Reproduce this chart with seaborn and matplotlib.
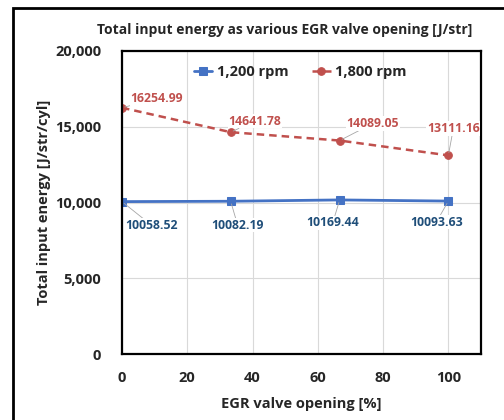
import matplotlib
matplotlib.use("Agg")
import matplotlib.pyplot as plt
import seaborn as sns
import pandas as pd
from matplotlib.patches import Rectangle
from matplotlib.ticker import FuncFormatter

egr_opening = [0, 33.3, 66.7, 100]
rpm1200 = [10058.52, 10082.19, 10169.44, 10093.63]
rpm1800 = [16254.99, 14641.78, 14089.05, 13111.16]
series_names = ["1,200 rpm", "1,800 rpm"]

sns.set_theme(style="white")
plt.rcParams['font.family'] = ['Open Sans', 'DejaVu Sans']
plt.rcParams['font.weight'] = 'bold'

fig = plt.figure(figsize=(5.04, 4.2), dpi=100)
ax = fig.add_axes([122/504, 66/420, 359/504, 303/420])

blue = "#4472C4"
red = "#C0504D"
sns.lineplot(x=egr_opening, y=rpm1200, ax=ax, color=blue, marker="s", markersize=6,
             markeredgecolor=blue, linewidth=2, label=series_names[0])
sns.lineplot(x=egr_opening, y=rpm1800, ax=ax, color=red, marker="o", markersize=5.5,
             markeredgecolor=red, linewidth=1.8, linestyle=(0, (3, 2)), label=series_names[1])

ax.set_xlim(0, 110)
ax.set_ylim(0, 20000)
ax.set_xticks([0, 20, 40, 60, 80, 100])
ax.set_yticks([0, 5000, 10000, 15000, 20000])
ax.yaxis.set_major_formatter(FuncFormatter(lambda v, p: f"{int(v):,}"))
ax.grid(True, color="#D9D9D9", linewidth=0.8)
ax.set_axisbelow(True)
for s in ax.spines.values():
    s.set_color("black")
    s.set_linewidth(1.6)
ax.tick_params(axis='both', length=0, labelsize=10.5)
ax.tick_params(axis='x', pad=12)
ax.tick_params(axis='y', pad=15)
for lbl in ax.get_xticklabels() + ax.get_yticklabels():
    lbl.set_fontweight('bold')

ax.set_xlabel("EGR valve opening [%]", fontsize=10.5, fontweight='bold', labelpad=9)
ax.set_ylabel("Total input energy [J/str/cyl]", fontsize=10.5, fontweight='bold', labelpad=3)
fig.text(285/504, 1 - 30/420, "Total input energy as various EGR valve opening [J/str]",
         ha='center', va='center', fontsize=10, fontweight='bold')

leg = ax.legend(loc='center', bbox_to_anchor=(0.496, 0.93), ncol=2, frameon=False,
                fontsize=10.5, handlelength=1.3, columnspacing=1.6, handletextpad=0.3)
for t in leg.get_texts():
    t.set_fontweight('bold')

red_off = [(35, 9), (24, 11), (33, 17), (5, 27)]
blue_off = [(30, -24), (7, -24), (-7, -23), (-12, -21)]
for x, y, off in zip(egr_opening, rpm1800, red_off):
    ax.annotate(f"{y:.2f}", (x, y), xytext=off, textcoords='offset pixels',
                ha='center', va='center', fontsize=8.8, fontweight='bold', color=red,
                bbox=dict(fc='white', ec='none', pad=0.5), annotation_clip=False,
                arrowprops=dict(arrowstyle='-', color='#A6A6A6', lw=0.6, shrinkA=0, shrinkB=2))
for x, y, off in zip(egr_opening, rpm1200, blue_off):
    ax.annotate(f"{y:.2f}", (x, y), xytext=off, textcoords='offset pixels',
                ha='center', va='center', fontsize=8.8, fontweight='bold', color="#1F4E79",
                bbox=dict(fc='white', ec='none', pad=0.5), annotation_clip=False,
                arrowprops=dict(arrowstyle='-', color='#A6A6A6', lw=0.6, shrinkA=0, shrinkB=2))

fig.patches.append(Rectangle((13/504, -0.1), 1.2, 1.1 - 8/420 + 0.0, transform=fig.transFigure,
                             fill=False, edgecolor='black', linewidth=2, figure=fig))

fig.savefig("out.png", dpi=100)
